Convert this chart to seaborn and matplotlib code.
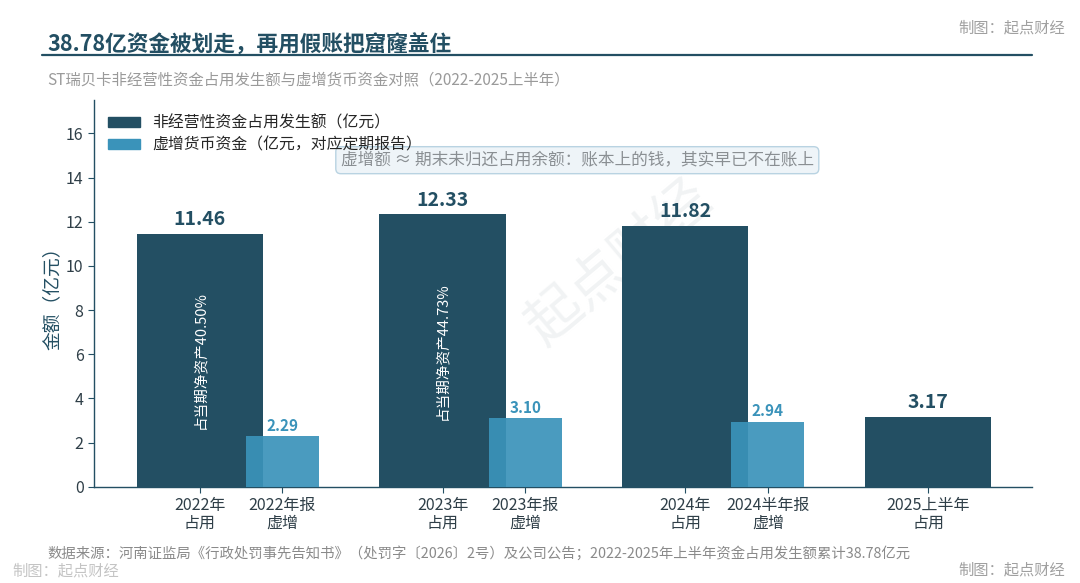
import numpy as np
import pandas as pd
import seaborn as sb
import matplotlib.pyplot as plt
from matplotlib.patches import Patch

# data
periods = ["2022年", "2023年", "2024年", "2025上半年"]
occupied = [11.46, 12.33, 11.82, 3.17]          # 非经营性资金占用发生额
inflated = [2.29, 3.10, 2.94]                    # 虚增货币资金
occ_ticks = ["2022年\n占用", "2023年\n占用", "2024年\n占用", "2025上半年\n占用"]
inf_ticks = ["2022年报\n虚增", "2023年报\n虚增", "2024半年报\n虚增"]
share_text = ["占当期净资产40.50%", "占当期净资产44.73%", None, None]

DARK = "#234f63"
LIGHT = "#3a93ba"
GREY = "#9a9a9a"

sb.set_style("white")
plt.rcParams['font.family'] = ['Noto Sans CJK SC', 'DejaVu Sans']

OFFSET = 0.34
occ_df = pd.DataFrame({"x": np.arange(len(occupied)), "v": occupied})
inf_df = pd.DataFrame({"x": np.arange(len(inflated)) + OFFSET, "v": inflated})

fig = plt.figure(figsize=(10.8, 5.83), dpi=100)
ax = fig.add_axes([0.087, 0.165, 0.869, 0.663])

# faint watermark behind the bars
ax.text(0.56, 0.58, "起点财经", transform=ax.transAxes, rotation=40,
        fontsize=40, color="#f1f3f4", ha="center", va="center", zorder=0)

sb.barplot(data=occ_df, x="x", y="v", native_scale=True, width=0.52,
           color=DARK, saturation=1, linewidth=0, ax=ax, zorder=2)
sb.barplot(data=inf_df, x="x", y="v", native_scale=True, width=0.30,
           color=LIGHT, saturation=1, alpha=0.92, linewidth=0, ax=ax, zorder=3)

# value labels
for i, v in enumerate(occupied):
    ax.text(i, v + 0.22, f"{v:.2f}", ha="center", va="bottom",
            fontsize=14, fontweight="bold", color=DARK, zorder=5)
for i, v in enumerate(inflated):
    ax.text(i + OFFSET, v + 0.12, f"{v:.2f}", ha="center", va="bottom",
            fontsize=11, fontweight="bold", color=LIGHT, zorder=5)
for i, t in enumerate(share_text):
    if t:
        ax.text(i, occupied[i] / 2, t, rotation=90, ha="center", va="center",
                fontsize=10.5, color="white", zorder=5)

ax.set_xlim(-0.436, 3.43)
ax.set_ylim(0, 17.5)
ax.set_yticks(range(0, 17, 2))
xt = list(range(len(occupied))) + [i + OFFSET for i in range(len(inflated))]
ax.set_xticks(xt)
ax.set_xticklabels(occ_ticks + inf_ticks, fontsize=11.5, color="#2f3f48",
                   linespacing=1.05)
ax.tick_params(axis="y", labelsize=11.5, labelcolor="#2f3f48", left=True,
               length=4, color=DARK)
ax.tick_params(axis="x", bottom=True, length=4, color=DARK)
ax.set_xlabel("")
ax.set_ylabel("金额（亿元）", fontsize=13.5, color=DARK, labelpad=2)
for s in ["top", "right"]:
    ax.spines[s].set_visible(False)
for s in ["left", "bottom"]:
    ax.spines[s].set_color(DARK)
    ax.spines[s].set_linewidth(1)

ax.text(0.515, 0.845, "虚增额 ≈ 期末未归还占用余额：账本上的钱，其实早已不在账上",
        transform=ax.transAxes, ha="center", va="center", fontsize=12,
        color="#8a8f93", zorder=6,
        bbox=dict(boxstyle="round,pad=0.3", fc="#eef4f8", ec="#b9d3e2", lw=1))

handles = [Patch(color=DARK, label="非经营性资金占用发生额（亿元）"),
           Patch(color=LIGHT, label="虚增货币资金（亿元，对应定期报告）")]
leg = ax.legend(handles=handles, loc="upper left", bbox_to_anchor=(0.0, 1.0),
                frameon=False, fontsize=11.4, handlelength=2.0, handleheight=0.6,
                handletextpad=0.8, labelspacing=0.3)
leg.set_zorder(8)

# titles and notes
fig.text(0.044, 0.922, "38.78亿资金被划走，再用假账把窟窿盖住", fontsize=15.6,
         fontweight="bold", color=DARK, ha="left", va="center")
fig.add_artist(plt.Line2D([0.039, 0.956], [0.905, 0.905], color=DARK, lw=1.6))
fig.text(0.044, 0.863, "ST瑞贝卡非经营性资金占用发生额与虚增货币资金对照（2022-2025上半年）",
         fontsize=11.1, color=GREY, ha="left", va="center")
fig.text(0.986, 0.952, "制图：起点财经", fontsize=11, color="#a0a0a0",
         ha="right", va="center")
fig.text(0.044, 0.050, "数据来源：河南证监局《行政处罚事先告知书》（处罚字〔2026〕2号）及公司公告；2022-2025年上半年资金占用发生额累计38.78亿元",
         fontsize=10.35, color="#8a8a8a", ha="left", va="center")
fig.text(0.011, 0.020, "制图：起点财经", fontsize=11, color="#c4c4c4",
         ha="left", va="center")
fig.text(0.986, 0.022, "制图：起点财经", fontsize=11, color="#a0a0a0",
         ha="right", va="center")

fig.savefig("out.png", dpi=100)
